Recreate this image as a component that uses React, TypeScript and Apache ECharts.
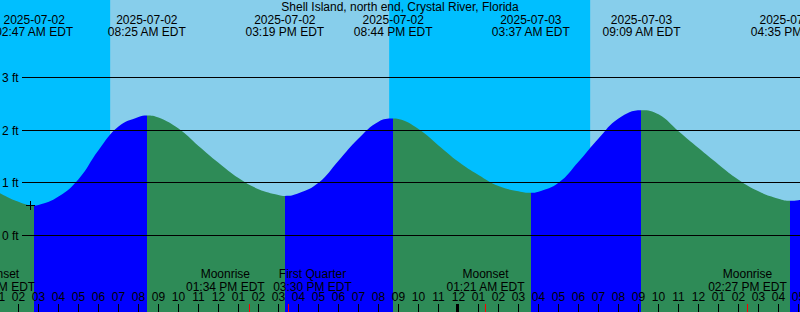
import React, { useEffect, useRef } from "react";
import * as echarts from "echarts";

// ---------------- data ----------------
const TITLE = "Shell Island, north end, Crystal River, Florida";

// tide extremes (local time, EDT)
const tideEventTimes = [
  "2025-07-02T02:47", "2025-07-02T08:25", "2025-07-02T15:19", "2025-07-02T20:44",
  "2025-07-03T03:37", "2025-07-03T09:09", "2025-07-03T16:35",
];
const tideEventKinds = ["Low", "High", "Low", "High", "Low", "High", "Low"];
const tideEventHeights = [0.57, 2.28, 0.75, 2.22, 0.81, 2.38, 0.66];

// hourly water level readings (hours after 2025-07-02 00:00, feet)
const hourlyTimes = [
  1, 2, 3, 4, 5, 6, 7, 8, 9, 10, 11, 12, 13, 14, 15, 16, 17, 18, 19, 20, 21,
  22, 23, 24, 25, 26, 27, 28, 29, 30, 31, 32, 33, 34, 35, 36, 37, 38, 39, 40, 41, 42,
];
const hourlyHeights = [
  0.82, 0.64, 0.58, 0.74, 1.07, 1.62, 2.07, 2.25, 2.24, 2.03, 1.70, 1.38, 1.09, 0.88, 0.77,
  0.80, 1.00, 1.42, 1.84, 2.16, 2.21, 2.02, 1.71, 1.40, 1.15, 0.94, 0.84, 0.83, 1.00, 1.40,
  1.84, 2.22, 2.38, 2.30, 1.98, 1.66, 1.35, 1.06, 0.84, 0.70, 0.67, 0.72,
];

// daylight periods
const sunriseTimes = ["2025-07-02T06:35", "2025-07-03T06:35"];
const sunsetTimes = ["2025-07-02T20:32", "2025-07-03T20:31"];

// moon events
const moonEventTimes = [
  "2025-07-02T00:53", "2025-07-02T13:34", "2025-07-02T15:30", "2025-07-03T01:21", "2025-07-03T14:27",
];
const moonEventNames = ["Moonset", "Moonrise", "First Quarter", "Moonset", "Moonrise"];
const moonLabelNudge = [0, -24.5, 24, 0, 0];

// day boundary (midnight)
const dayBoundaryTimes = ["2025-07-03T00:00"];

// "now" marker
const markerTime = "2025-07-02T02:36";
const markerHeight = 0.57;

// y grid levels (ft)
const gridLevels = [0, 1, 2, 3];

// axis ranges
const X_MIN = 1;
const X_MAX = 41.075;
const Y_MIN = -1.4524;
const Y_MAX = 4.4712;

// ---------------- style ----------------
const FONT = '"Liberation Sans", Arial, sans-serif';
const FONT_CSS = `12px ${FONT}`;
const DAY_SKY = "#87CEEB";
const NIGHT_SKY = "#00BFFF";
const FLOOD = "#0000FF";
const EBB = "#2E8B57";

// ---------------- helpers ----------------
function toHours(s: string): number {
  const day = parseInt(s.slice(8, 10), 10) - 2;
  const hh = parseInt(s.slice(11, 13), 10);
  const mm = parseInt(s.slice(14, 16), 10);
  return day * 24 + hh + mm / 60;
}
function pad2(n: number): string {
  return n < 10 ? "0" + n : "" + n;
}
function fmtClock(s: string): string {
  const hh = parseInt(s.slice(11, 13), 10);
  const mm = s.slice(14, 16);
  const ap = hh < 12 ? "AM" : "PM";
  const h12 = hh % 12 || 12;
  return `${pad2(h12)}:${mm} ${ap} EDT`;
}
function crisp(v: number): number {
  return Math.round(v - 0.5) + 0.5;
}

export default function App() {
  const ref = useRef<HTMLDivElement>(null);

  useEffect(() => {
    if (!ref.current) return;
    const chart = echarts.init(ref.current, undefined, { renderer: "svg" });

    const evH = tideEventTimes.map(toHours);

    // merge curve points
    const pts: number[][] = [];
    hourlyTimes.forEach((t, i) => {
      const close = evH.some((e) => Math.abs(e - t) < 0.2);
      if (!close) pts.push([t, hourlyHeights[i]]);
    });
    evH.forEach((t, i) => pts.push([t, tideEventHeights[i]]));
    pts.sort((a, b) => a[0] - b[0]);

    // flood / ebb coloring pieces
    const pieces: any[] = [];
    pieces.push({ lt: evH[0], color: tideEventKinds[0] === "Low" ? EBB : FLOOD });
    evH.forEach((t, i) => {
      const c = tideEventKinds[i] === "Low" ? FLOOD : EBB;
      if (i < evH.length - 1) pieces.push({ gte: t, lt: evH[i + 1], color: c });
      else pieces.push({ gte: t, color: c });
    });

    const dayIntervals = sunriseTimes.map((s, i) => [toHours(s), toHours(sunsetTimes[i])]);
    const hourTicks = hourlyTimes.filter((t) => t >= X_MIN && t <= X_MAX);

    const textStyle = (text: string, extra: any) => ({
      text,
      fill: "#000",
      font: FONT_CSS,
      fontSize: 12,
      fontFamily: FONT,
      ...extra,
    });

    const option: any = {
      animation: false,
      backgroundColor: NIGHT_SKY,
      title: {
        text: TITLE,
        left: "center",
        top: 0.7,
        padding: 0,
        textStyle: { fontSize: 12, fontWeight: "normal", fontFamily: FONT, color: "#000", lineHeight: 12 },
      },
      grid: { left: -1.5, right: 0, top: 0, bottom: 0, containLabel: false, outerBoundsMode: "none" },
      xAxis: {
        type: "value",
        min: X_MIN,
        max: X_MAX,
        position: "bottom",
        z: 10,
        axisLine: { show: false, onZero: false },
        splitLine: { show: false },
        axisTick: {
          show: true,
          inside: true,
          length: 8,
          customValues: hourTicks,
          lineStyle: { color: "#000", width: 1 },
        },
        axisLabel: {
          show: true,
          inside: true,
          margin: 8.6,
          customValues: hourTicks,
          color: "#000",
          fontSize: 12,
          fontFamily: FONT,
          lineHeight: 12,
          formatter: (v: number) => {
            const h = ((Math.round(v) % 24) + 24) % 24;
            return pad2(h % 12 || 12);
          },
        },
      },
      yAxis: { type: "value", min: Y_MIN, max: Y_MAX, show: false, splitLine: { show: false } },
      visualMap: {
        type: "piecewise",
        show: false,
        dimension: 0,
        seriesIndex: 1,
        pieces,
      },
      series: [
        {
          type: "custom",
          z: 1,
          silent: true,
          data: dayIntervals,
          renderItem: (params: any, api: any) => {
            const a = api.coord([api.value(0), 0])[0];
            const b = api.coord([api.value(1), 0])[0];
            const cs = params.coordSys;
            return {
              type: "rect",
              shape: { x: a, y: cs.y, width: b - a, height: cs.height },
              style: { fill: DAY_SKY },
            };
          },
        },
        {
          type: "line",
          z: 2,
          silent: true,
          data: pts,
          smooth: 0.45,
          showSymbol: false,
          symbol: "none",
          lineStyle: { width: 0 },
          areaStyle: { opacity: 1, origin: "start" },
        },
        {
          type: "custom",
          z: 3,
          silent: true,
          data: gridLevels.map((v) => [v]),
          renderItem: (params: any, api: any) => {
            const v = api.value(0);
            const y = crisp(api.coord([X_MIN, v])[1]);
            const cs = params.coordSys;
            return {
              type: "group",
              children: [
                {
                  type: "line",
                  shape: { x1: 22, y1: y, x2: cs.x + cs.width, y2: y },
                  style: { stroke: "#000", lineWidth: 1 },
                },
                {
                  type: "text",
                  x: 2,
                  y: y,
                  style: textStyle(`${v} ft`, {
                    align: "left",
                    textAlign: "left",
                    verticalAlign: "middle",
                    textVerticalAlign: "middle",
                    lineHeight: 12,
                  }),
                },
              ],
            };
          },
        },
        {
          type: "custom",
          z: 4,
          silent: true,
          data: [[toHours(markerTime), markerHeight]],
          renderItem: (params: any, api: any) => {
            const p = api.coord([api.value(0), api.value(1)]);
            const cx = crisp(p[0]);
            const cy = crisp(p[1]);
            return {
              type: "group",
              children: [
                { type: "line", shape: { x1: cx - 4.5, y1: cy, x2: cx + 4.5, y2: cy }, style: { stroke: "#000", lineWidth: 1 } },
                { type: "line", shape: { x1: cx, y1: cy - 4.5, x2: cx, y2: cy + 4.5 }, style: { stroke: "#000", lineWidth: 1 } },
              ],
            };
          },
        },
        {
          type: "custom",
          z: 5,
          silent: true,
          data: evH.map((t) => [t]),
          renderItem: (params: any, api: any) => {
            const i = params.dataIndex;
            const x = api.coord([api.value(0), 0])[0];
            const s = tideEventTimes[i];
            return {
              type: "text",
              x,
              y: 13.7,
              style: textStyle(`${s.slice(0, 10)}\n${fmtClock(s)}`, {
                align: "center",
                textAlign: "center",
                verticalAlign: "top",
                textVerticalAlign: "top",
                lineHeight: 12,
              }),
            };
          },
        },
        {
          type: "custom",
          z: 5,
          silent: true,
          data: moonEventTimes.map((s) => [toHours(s)]),
          renderItem: (params: any, api: any) => {
            const i = params.dataIndex;
            const x = api.coord([api.value(0), 0])[0];
            const cx = crisp(x);
            return {
              type: "group",
              children: [
                {
                  type: "line",
                  shape: { x1: cx, y1: 304, x2: cx, y2: 312 },
                  style: { stroke: "#FF0000", lineWidth: 1 },
                },
                {
                  type: "text",
                  x: x + moonLabelNudge[i],
                  y: 267.75,
                  style: textStyle(`${moonEventNames[i]}\n${fmtClock(moonEventTimes[i])}`, {
                    align: "center",
                    textAlign: "center",
                    verticalAlign: "top",
                    textVerticalAlign: "top",
                    lineHeight: 12.5,
                  }),
                },
              ],
            };
          },
        },
        {
          type: "custom",
          z: 6,
          silent: true,
          data: dayBoundaryTimes.map((s) => [toHours(s)]),
          renderItem: (params: any, api: any) => {
            const x = api.coord([api.value(0), 0])[0];
            return {
              type: "rect",
              shape: { x: Math.floor(x) - 2, y: 304, width: 3, height: 8 },
              style: { fill: "#000" },
            };
          },
        },
      ],
    };

    chart.setOption(option);
    return () => chart.dispose();
  }, []);

  return (
    <div
      ref={ref}
      style={{ position: "fixed", left: 0, top: 0, width: 800, height: 312 }}
    />
  );
}
